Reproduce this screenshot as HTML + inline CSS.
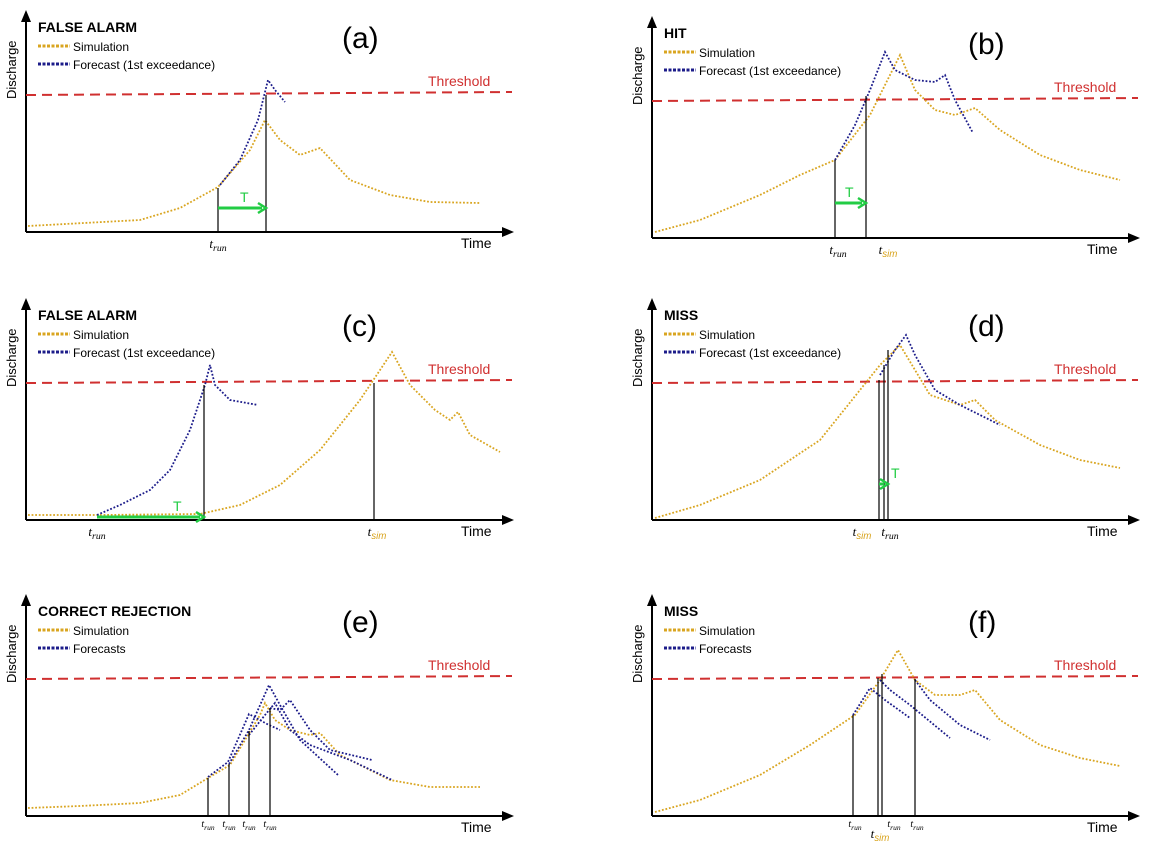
<!DOCTYPE html>
<html><head><meta charset="utf-8">
<style>
html,body{margin:0;padding:0;background:#fff;}
svg{display:block;font-family:"Liberation Sans",sans-serif;}
</style></head>
<body>
<svg id="fig" width="1149" height="850" viewBox="0 0 1149 850"></svg>
<script>
// ---- data (time / discharge units, per panel) ----
const simA_t=[2,114,154,192,224,239,254,274,294,324,364,404,454];
const simA_q=[6,12,24,45,82,112,92,77,84,52,37,30,29];
const fcA_t=[194,214,232,242,249,259];
const fcA_q=[47,72,112,152,142,130];

const simB_t=[3,48,108,148,183,218,248,263,283,303,323,348,388,428,468];
const simB_q=[6,18,43,63,78,123,183,148,128,123,130,108,83,68,58];
const fcB_t=[183,203,218,233,243,263,283,293,303,321];
const fcB_q=[78,113,148,186,168,158,156,163,138,105];

const simC_t=[2,74,174,214,254,294,334,366,384,409,424,432,444,474];
const simC_q=[5,5,6,15,35,70,120,168,135,110,100,108,85,68];
const fcC_t=[71,94,124,144,164,179,184,189,204,232];
const fcC_q=[5,15,30,50,90,135,155,135,120,115];

const simD_t=[3,48,108,168,208,228,248,263,278,308,323,343,388,428,468];
const simD_q=[2,15,40,80,130,155,175,150,125,115,120,100,75,60,52];
const fcD_t=[228,243,254,263,283,308,348];
const fcD_q=[145,170,185,165,130,115,95];

const simE_t=[2,54,114,154,182,204,222,234,239,249,264,284,294,314,364,404,454];
const simE_q=[8,10,13,21,38,51,81,101,113,96,86,81,83,61,36,29,29];
const fcE1_t=[182,202,223,241,254]; const fcE1_q=[39,54,102,92,86];
const fcE2_t=[203,223,243,254,274,312]; const fcE2_q=[52,86,131,111,76,41];
const fcE3_t=[223,239,249,264,284,324,366]; const fcE3_q=[81,101,113,86,71,56,36];
const fcE4_t=[244,254,264,284,304,346]; const fcE4_q=[108,106,116,86,66,56];

const simF_t=[3,48,108,158,203,228,246,263,283,308,323,348,388,428,468];
const simF_q=[4,16,41,71,101,136,166,136,121,121,126,96,71,58,50];
const fcF1_t=[201,218,233,258]; const fcF1_q=[101,128,116,98];
const fcF2_t=[228,238,258,298]; const fcF2_q=[136,126,111,78];
const fcF3_t=[263,278,308,338]; const fcF3_q=[136,116,91,76];

const SIM='#d9a520', FC='#1c1c8a', RED='#d03030', GRN='#22cc44';
const NS='http://www.w3.org/2000/svg';
const svg=document.getElementById('fig');
function el(tag,attrs,parent,text){const e=document.createElementNS(NS,tag);for(const k in attrs)e.setAttribute(k,attrs[k]);if(text!==undefined)e.textContent=text;(parent||svg).appendChild(e);return e;}

function panel(id,ox,oy,title,label,fcLabel){
  const g=el('g',{});
  
  
  const X=t=>ox+t, Y=q=>oy-q;
  const ctx={g,X,Y};
  const ya=el('line',{x1:ox,y1:oy,x2:ox,y2:oy-212,stroke:'#000','stroke-width':2},g);
   
  el('polygon',{points:`${ox-5},${oy-210} ${ox+5},${oy-210} ${ox},${oy-222}`,fill:'#000'},g);
  const xa=el('line',{x1:ox,y1:oy,x2:ox+478,y2:oy,stroke:'#000','stroke-width':2},g);
   
  el('polygon',{points:`${ox+476},${oy-5} ${ox+476},${oy+5} ${ox+488},${oy}`,fill:'#000'},g);
  const yt=el('text',{x:0,y:0,'font-size':13,transform:`translate(${ox-10},${oy-133}) rotate(-90)`},g,'Discharge');
   
  const xt=el('text',{x:ox+435,y:oy+16,'font-size':14},g,'Time');
   
  const th=el('line',{x1:ox,y1:Y(137),x2:ox+486,y2:Y(140),stroke:RED,'stroke-width':2,'stroke-dasharray':'10,6'},g);
   
  const tt=el('text',{x:ox+402,y:Y(146),'font-size':14,fill:RED},g,'Threshold');
   
  const ti=el('text',{x:ox+12,y:oy-200,'font-size':14,'font-weight':'bold'},g,title);
   
  el('line',{x1:ox+12,y1:oy-186,x2:ox+44,y2:oy-186,stroke:SIM,'stroke-width':3,'stroke-dasharray':'3,1.5'},g);
  const l1=el('text',{x:ox+47,y:oy-181,'font-size':12},g,'Simulation');
   
  el('line',{x1:ox+12,y1:oy-168,x2:ox+44,y2:oy-168,stroke:FC,'stroke-width':3,'stroke-dasharray':'3,1.5'},g);
  const l2=el('text',{x:ox+47,y:oy-163,'font-size':12},g,fcLabel);
   
  const pl=el('text',{x:ox+316,y:oy-184,'font-size':30},g,label);
   
  return ctx;
}
function series(ctx,ts,qs,color,name){
  const pts=ts.map((t,i)=>ctx.X(t)+','+ctx.Y(qs[i])).join(' ');
  const p=el('polyline',{points:pts,fill:'none',stroke:color,'stroke-width':1.8,'stroke-dasharray':'1.8,1.8'},ctx.g);
  
  
}
function vline(ctx,t,q){
  const l=el('line',{x1:ctx.X(t),y1:ctx.Y(0),x2:ctx.X(t),y2:ctx.Y(q),stroke:'#000','stroke-width':1.2},ctx.g);
  
  
}
function arrow(ctx,t1,t2,q,lab,labdx){
  const a=el('line',{x1:ctx.X(t1),y1:ctx.Y(q),x2:ctx.X(t2)-4,y2:ctx.Y(q),stroke:GRN,'stroke-width':3},ctx.g);
  
  
  el('polyline',{points:`${ctx.X(t2)-8},${ctx.Y(q)-5} ${ctx.X(t2)},${ctx.Y(q)} ${ctx.X(t2)-8},${ctx.Y(q)+5}`,fill:'none',stroke:GRN,'stroke-width':2.5},ctx.g);
  const tl=el('text',{x:ctx.X(t1)+(labdx||22),y:ctx.Y(q)-6,'font-size':14,fill:GRN},ctx.g,lab);
  
  
}
function tlab(ctx,t,sub,color,size,dy){
  const e=el('text',{x:ctx.X(t),y:ctx.Y(0)+(dy||16),'font-size':size||13,'font-family':'Liberation Serif,serif','font-style':'italic','text-anchor':'middle',fill:'#000'},ctx.g);
  el('tspan',{},e,'t');
  el('tspan',{'font-size':(size||13)*0.75,dy:3,fill:color||'#000','font-family':color?'Liberation Sans,sans-serif':'Liberation Serif,serif'},e,sub);
  
  
}

let c=panel('a',26,232,'FALSE ALARM','(a)','Forecast (1st exceedance)');
series(c,simA_t,simA_q,SIM,'simulation-line'); series(c,fcA_t,fcA_q,FC,'forecast-line');
vline(c,192,44); vline(c,240,137); arrow(c,192,240,24,'T'); tlab(c,192,'run');
c=panel('b',652,238,'HIT','(b)','Forecast (1st exceedance)');
series(c,simB_t,simB_q,SIM,'simulation-line'); series(c,fcB_t,fcB_q,FC,'forecast-line');
vline(c,183,78); vline(c,214,142); arrow(c,183,214,35,'T',10); tlab(c,186,'run'); tlab(c,236,'sim',SIM);
c=panel('c',26,520,'FALSE ALARM','(c)','Forecast (1st exceedance)');
series(c,simC_t,simC_q,SIM,'simulation-line'); series(c,fcC_t,fcC_q,FC,'forecast-line');
vline(c,178,135); vline(c,348,137); arrow(c,71,178,3,'T',76); tlab(c,71,'run'); tlab(c,351,'sim',SIM);
c=panel('d',652,520,'MISS','(d)','Forecast (1st exceedance)');
series(c,simD_t,simD_q,SIM,'simulation-line'); series(c,fcD_t,fcD_q,FC,'forecast-line');
vline(c,227,140); vline(c,232,155); vline(c,236,170); arrow(c,227,236,36,'T',12); tlab(c,210,'sim',SIM); tlab(c,238,'run');
c=panel('e',26,816,'CORRECT REJECTION','(e)','Forecasts');
series(c,simE_t,simE_q,SIM,'simulation-line');
series(c,fcE1_t,fcE1_q,FC,'forecast-line-1'); series(c,fcE2_t,fcE2_q,FC,'forecast-line-2');
series(c,fcE3_t,fcE3_q,FC,'forecast-line-3'); series(c,fcE4_t,fcE4_q,FC,'forecast-line-4');
vline(c,182,38); vline(c,203,52); vline(c,223,85); vline(c,244,108);
[182,203,223,244].forEach(t=>tlab(c,t,'run',null,10,11));
c=panel('f',652,816,'MISS','(f)','Forecasts');
series(c,simF_t,simF_q,SIM,'simulation-line');
series(c,fcF1_t,fcF1_q,FC,'forecast-line-1'); series(c,fcF2_t,fcF2_q,FC,'forecast-line-2'); series(c,fcF3_t,fcF3_q,FC,'forecast-line-3');
vline(c,201,101); vline(c,226,138); vline(c,230,142); vline(c,263,137);
[203,242,265].forEach(t=>tlab(c,t,'run',null,10,11)); tlab(c,228,'sim',SIM,13,22);
</script>
</body></html>
